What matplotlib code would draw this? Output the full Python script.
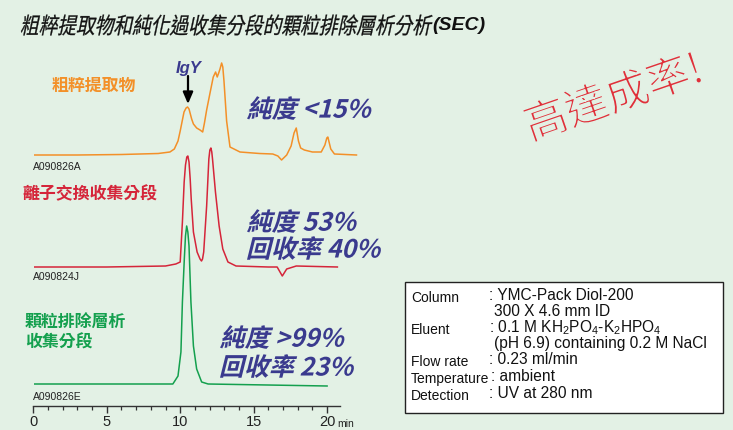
import matplotlib
matplotlib.use("Agg")
import matplotlib.pyplot as plt
from matplotlib.textpath import TextPath
from matplotlib.patches import PathPatch, Rectangle
from matplotlib.font_manager import FontProperties
from matplotlib.transforms import Affine2D

# ---------------------------------------------------------------- data
# SEC chromatograms: retention time (min) and detector response (a.u.)
crude_time = [0.1, 3.0, 6.0, 8.5, 9.3, 9.6, 9.85, 10.0, 10.15, 10.26, 10.4, 10.5,
              10.6, 10.78, 10.9, 11.12, 11.35, 11.53, 11.65, 11.8, 12.03, 12.25,
              12.41, 12.52, 12.62, 12.71, 12.82, 12.9, 12.98, 13.16, 13.39, 14.07,
              15.4, 16.3, 16.65, 16.9, 17.25, 17.55, 17.75, 17.9, 18.05, 18.2,
              18.45, 19.0, 19.6, 19.85, 19.98, 20.05, 20.15, 20.25, 20.5, 22.0]
crude_signal = [0, 0, 0.5, 1.5, 3, 6, 14, 24, 35, 43, 47, 48,
                46, 36, 31, 27, 25, 23, 32, 45, 62, 78,
                83, 78, 82, 86, 92, 88, 74, 34, 8, 3,
                1.5, 1, -1, -5, 0, 9, 22, 27, 14, 7,
                5, 3, 3, 10, 17, 18, 12, 6, 1, 0]

iex_time = [0.1, 5.0, 9.0, 9.7, 10.0, 10.15, 10.27, 10.36, 10.45, 10.52, 10.6,
            10.68, 10.75, 10.9, 11.15, 11.35, 11.45, 11.52, 11.6, 11.8, 11.95,
            12.02, 12.09, 12.15, 12.2, 12.4, 12.65, 12.9, 13.25, 13.8, 16.0,
            16.6, 16.95, 17.25, 17.9, 20.7]
iex_signal = [0, 0, 1, 3, 5, 45, 85, 102, 110, 111, 105,
              88, 68, 35, 15, 8, 6, 8, 15, 61, 108,
              117, 119, 115, 108, 75, 41, 18, 5, 1, 0,
              0, -9, -2, 1, 0]

sec_time = [0.1, 5.0, 9.1, 9.5, 9.85, 10.05, 10.15, 10.28, 10.36, 10.44, 10.52,
            10.6, 10.73, 10.9, 11.12, 11.46, 11.9, 20.0]
sec_signal = [0, 0, 0, 0, 8, 32, 82, 125, 148, 158, 152,
              138, 82, 38, 15, 2, 0, -2]

trace_names = ["粗粹提取物", "離子交換收集分段", "顆粒排除層析\n收集分段"]
run_ids = ["A090826A", "A090824J", "A090826E"]
purity_notes = [["純度 <15%"], ["純度 53%", "回收率 40%"], ["純度 >99%", "回收率 23%"]]
x_major = [0, 5, 10, 15, 20]
x_minor = list(range(0, 21))

conditions = [("Column", ": YMC-Pack Diol-200"),
              ("", "300 X 4.6 mm ID"),
              ("Eluent", r": 0.1 M KH$_2$PO$_4$-K$_2$HPO$_4$"),
              ("", "(pH 6.9) containing 0.2 M NaCl"),
              ("Flow rate", ": 0.23 ml/min"),
              ("Temperature", ": ambient"),
              ("Detection", ": UV at 280 nm")]

# ---------------------------------------------------------------- style
W, H = 733, 431
BG = "#E3F1E5"
ORANGE = "#F39028"
RED = "#D5253A"
GREEN = "#14A04E"
NAVY = "#3A3A8E"
CJK = ["Noto Sans CJK TC", "DejaVu Sans"]
LATIN = ["Liberation Sans", "DejaVu Sans"]

plt.rcParams["mathtext.fontset"] = "custom"
plt.rcParams["mathtext.rm"] = "Liberation Sans"
plt.rcParams["mathtext.it"] = "Liberation Sans:italic"
plt.rcParams["mathtext.bf"] = "Liberation Sans:bold"

fig = plt.figure(figsize=(W / 100, H / 100), dpi=100, facecolor=BG)

# full-figure canvas in pixel units (y downwards) for annotations
canvas = fig.add_axes([0, 0, 1, 1])
canvas.set_xlim(0, W)
canvas.set_ylim(H, 0)
canvas.axis("off")


def slanted(s, x, y, size, color, family=CJK, weight="normal", slant=0.0,
            xscale=1.0, rotation=0.0, ha="left", edge=None, edge_lw=0.0):
    """Draw text as a path so it can be obliqued / condensed / rotated.
    (x, y) is the left (or centre) of the ink box, vertically centred."""
    fp = FontProperties(family=family, weight=weight)
    path = TextPath((0, 0), s, size=size, prop=fp)
    tr = (Affine2D().scale(xscale, 1.0).skew_deg(slant, 0)
          .rotate_deg(rotation).scale(1.0, -1.0))
    p = tr.transform_path(path)
    ext = p.get_extents()
    dx = x - (ext.x0 if ha == "left" else (ext.x0 + ext.x1) / 2)
    dy = y - (ext.y0 + ext.y1) / 2
    p = Affine2D().translate(dx, dy).transform_path(p)
    canvas.add_patch(PathPatch(p, facecolor=color,
                               edgecolor=edge if edge else "none",
                               lw=edge_lw, joinstyle="round"))


# title
slanted("粗粹提取物和純化過收集分段的顆粒排除層析分析", 21, 26, 22.5, "#111111",
        slant=12, xscale=0.83, edge="#111111", edge_lw=0.2)
canvas.text(432, 26, "(SEC)", fontsize=14, fontweight="bold", fontstyle="italic",
            family=LATIN, color="#111111", ha="left", va="center")

# chromatogram axes: x in minutes, y = pixels above the time axis
PX_PER_MIN = 14.69
X0, AXIS_Y = 33.3, 407
ax = fig.add_axes([X0 / W, (H - AXIS_Y) / H, 20.9 * PX_PER_MIN / W, AXIS_Y / H])
ax.set_xlim(0, 20.9)
ax.set_ylim(0, AXIS_Y)
ax.patch.set_visible(False)
for side in ("top", "right", "left"):
    ax.spines[side].set_visible(False)
ax.spines["bottom"].set_color("#333333")
ax.spines["bottom"].set_linewidth(1.0)
ax.set_yticks([])
ax.set_xticks(x_major)
ax.set_xticks(x_minor, minor=True)
ax.set_xticklabels([str(v) for v in x_major], fontsize=10.5, family=LATIN, color="#222222")
ax.tick_params(axis="x", which="major", direction="out", length=5, width=1.0,
               color="#333333", pad=1)
ax.tick_params(axis="x", which="minor", direction="out", length=3, width=0.9,
               color="#333333")
canvas.text(337, 424, "min", fontsize=7.5, family=LATIN, color="#222222",
            ha="left", va="center")

baselines = [AXIS_Y - 156, AXIS_Y - 268, AXIS_Y - 385]
traces = [(crude_time, crude_signal, ORANGE),
          (iex_time, iex_signal, RED),
          (sec_time, sec_signal, GREEN)]
for (t, s, c), b in zip(traces, baselines):
    ax.plot(t, [b + v for v in s], color=c, lw=1.1, clip_on=False,
            solid_joinstyle="round")

# run identifiers below each trace
for rid, y in zip(run_ids, [167, 277, 397]):
    canvas.text(33, y, rid, fontsize=7.5, family=LATIN, color="#222222",
                ha="left", va="center")

# sample names
canvas.text(52, 86, trace_names[0], fontsize=12.2, family=CJK, fontweight="bold",
            color=ORANGE, ha="left", va="center")
canvas.text(22, 194, trace_names[1], fontsize=12.2, family=CJK, fontweight="bold",
            color=RED, ha="left", va="center")
for i, line in enumerate(trace_names[2].split("\n")):
    canvas.text(25, 322 + 21 * i, line, fontsize=12.2, family=CJK, fontweight="bold",
                color=GREEN, ha="left", va="center")

# purity / recovery notes
note_pos = [[(247, 109)], [(247, 222), (247, 249)], [(220, 338), (220, 367)]]
for lines, poss in zip(purity_notes, note_pos):
    for line, (x, y) in zip(lines, poss):
        slanted(line, x, y, 25, NAVY, weight="bold", slant=14)

# IgY marker
canvas.text(189, 69, "IgY", fontsize=12, fontweight="bold", fontstyle="italic",
            family=LATIN, color=NAVY, ha="center", va="center")
canvas.annotate("", xy=(188, 105), xytext=(188, 77),
                arrowprops=dict(arrowstyle="-|>,head_length=0.7,head_width=0.3",
                                color="black", lw=1.6, shrinkA=0, shrinkB=0))

# headline stamp, strokes thinned with a background-coloured outline
slanted("高達成率!", 612, 98, 43, "#E0303A", rotation=19, ha="center",
        edge=BG, edge_lw=1.1)

# conditions box
canvas.add_patch(Rectangle((405, 283), 318, 131, facecolor="white",
                           edgecolor="#222222", lw=1.0))
row_y = [296, 312, 328, 344, 360, 377, 394]
for (lab, val), y in zip(conditions, row_y):
    if lab:
        canvas.text(411, y + 2, lab, fontsize=10.0, family=LATIN, color="#111111",
                    ha="left", va="center")
    vx = 494 if not val.startswith(":") else (491 if lab == "Temperature" else 489)
    canvas.text(vx, y, val, fontsize=11.2, family=LATIN, color="#111111",
                ha="left", va="center")

fig.savefig("out.png", dpi=100, facecolor=BG)
